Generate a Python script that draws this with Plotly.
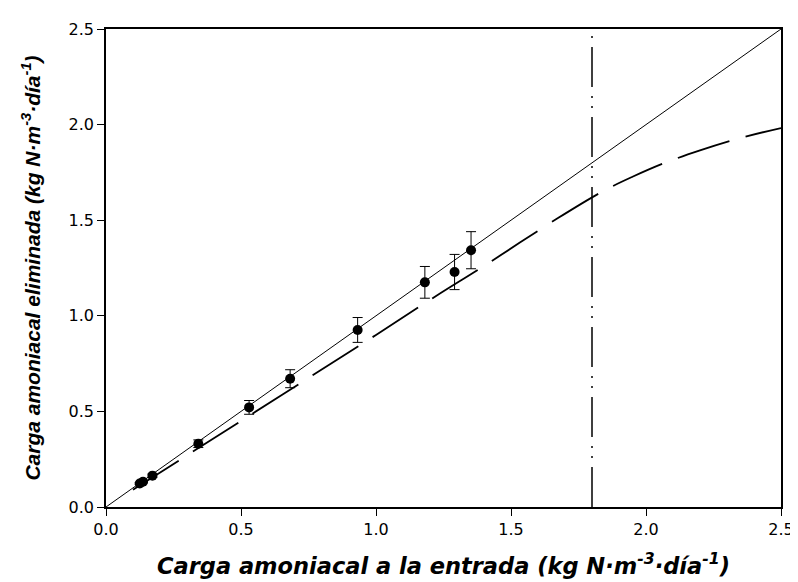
import plotly.graph_objects as go

# Data points
load_in = [0.125, 0.137, 0.172, 0.342, 0.530, 0.682, 0.932, 1.181, 1.291, 1.352]
load_removed = [0.123, 0.132, 0.164, 0.331, 0.521, 0.671, 0.926, 1.175, 1.229, 1.343]
load_err = [0.005, 0.005, 0.008, 0.020, 0.036, 0.047, 0.065, 0.083, 0.092, 0.097]

# Model curve
model_x = [0.1, 0.3, 0.5, 0.75, 1.0, 1.224, 1.398, 1.674, 1.844, 1.95, 2.07, 2.2, 2.35, 2.5]
model_y = [0.09, 0.27, 0.45, 0.675, 0.90, 1.105, 1.259, 1.511, 1.654, 1.727, 1.80, 1.865, 1.93, 1.982]

# Reference lines
identity_x = [0.0, 2.5]
identity_y = [0.0, 2.5]
limit_x = [1.8, 1.8]
limit_y = [0.0, 2.48]

tick_vals = [0, 0.5, 1.0, 1.5, 2.0, 2.5]
tick_text = ["0.0", "0.5", "1.0", "1.5", "2.0", "2.5"]

fig = go.Figure()
fig.add_trace(go.Scatter(x=identity_x, y=identity_y, mode="lines",
                         line=dict(color="black", width=1), showlegend=False))
fig.add_trace(go.Scatter(x=model_x, y=model_y, mode="lines", line_shape="spline",
                         line=dict(color="black", width=1.8, dash="54px,17px"), showlegend=False))
fig.add_trace(go.Scatter(x=limit_x, y=limit_y, mode="lines",
                         line=dict(color="black", width=1.5, dash="40px,9px,2px,8px,2px,9px"),
                         showlegend=False))
fig.add_trace(go.Scatter(x=load_in, y=load_removed, mode="markers",
                         marker=dict(color="black", size=10),
                         error_y=dict(type="data", array=load_err, color="black", thickness=1, width=5),
                         showlegend=False))

FONT = "Liberation Sans, Arial, sans-serif"
WIDEFONT = "DejaVu Sans, sans-serif"
axis_common = dict(showline=True, linecolor="black", linewidth=1.5, mirror=True,
                   ticks="outside", ticklen=7, tickcolor="black", tickwidth=1,
                   showgrid=False, zeroline=False,
                   tickfont=dict(family=WIDEFONT, size=16, color="black"))

fig.update_layout(
    width=798, height=582,
    margin=dict(l=98, r=15, t=21, b=83),
    paper_bgcolor="white", plot_bgcolor="white",
    xaxis=dict(range=[0, 2.5], tickvals=tick_vals, ticktext=tick_text,
               title=dict(text="<b><i>Carga amoniacal a la entrada (kg N·m<sup>-3</sup>·día<sup>-1</sup>)</i></b>",
                          font=dict(family=WIDEFONT, size=22.5, color="black"), standoff=20),
               **axis_common),
    yaxis=dict(range=[0, 2.5], tickvals=tick_vals, ticktext=tick_text,
               title=dict(text="<b><i>Carga amoniacal eliminada (kg N·m<sup>-3</sup>·día<sup>-1</sup>)</i></b>",
                          font=dict(family=FONT, size=21, color="black"), standoff=22),
               **axis_common),
)

fig.write_html("out.html")
